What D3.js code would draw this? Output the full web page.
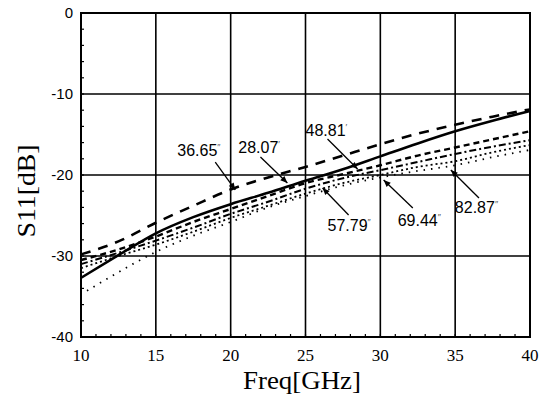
<!DOCTYPE html>
<html><head><meta charset="utf-8">
<script src="https://cdn.jsdelivr.net/npm/d3@7"></script>
<style>
html,body{margin:0;padding:0;background:#fff;}
svg{display:block;}
</style></head>
<body>
<svg id="chart" width="547" height="407"></svg>
<script>
// ---- data ----
const freqs = [10, 12.5, 15, 17.5, 20, 22.5, 25, 27.5, 30, 32.5, 35, 37.5, 40];
const s28_07 = [-32.7, -29.9, -27.2, -25.2, -23.6, -22.2, -20.7, -19.3, -17.7, -16.1, -14.6, -13.3, -12.1];
const s36_65 = [-29.8, -28.2, -25.9, -23.8, -21.8, -20.3, -19.0, -17.6, -16.2, -14.9, -13.8, -12.8, -11.9];
const s48_81 = [-30.5, -29.2, -27.6, -25.8, -24.2, -22.6, -21.0, -19.9, -18.8, -17.6, -16.6, -15.6, -14.6];
const s57_79 = [-31.0, -29.6, -28.1, -26.5, -24.8, -23.3, -21.7, -20.4, -19.4, -18.4, -17.4, -16.5, -15.7];
const s69_44 = [-31.5, -30.0, -28.6, -27.0, -25.3, -23.8, -22.3, -21.0, -20.0, -19.0, -18.3, -17.2, -16.3];
const freqsLow = [10.4, 12.5, 15, 17.5, 20, 22.5, 25, 27.5, 30, 32.5, 35, 37.5, 40];
const s82_87 = [-34.3, -32.0, -29.5, -27.5, -25.8, -24.0, -22.6, -21.3, -20.3, -19.5, -18.8, -17.8, -16.9];
const xTicks = [10, 15, 20, 25, 30, 35, 40];
const yTicks = [0, -10, -20, -30, -40];
const labelNames = ["36.65", "28.07", "48.81", "57.79", "69.44", "82.87"];
const labelMarks = ["″", "′", "′", "″", "″", "″"];
// annotation text anchor [freq, dB], arrow start and tip [freq, dB]
const labelText = [[16.43, -17.65], [20.51, -17.28], [25.0, -15.19], [26.47, -26.91], [31.16, -26.3], [34.98, -24.69]];
const arrowFrom = [[18.97, -18.4], [21.99, -17.78], [26.47, -15.56], [27.88, -24.94], [32.17, -24.07], [36.59, -22.84]];
const arrowTo = [[20.31, -21.85], [23.79, -20.99], [28.48, -19.26], [26.14, -21.6], [30.22, -20.62], [34.71, -19.38]];

// ---- layout ----
const svg = d3.select("#chart");
const L = 81, R = 530, T = 13, B = 337;
const x = d3.scaleLinear().domain([10, 40]).range([L, R]);
const y = d3.scaleLinear().domain([-40, 0]).range([B, T]);

// grid
const g = svg.append("g");
g.selectAll(".vg").data(xTicks.slice(1, -1)).enter().append("line")
  .attr("x1", d => x(d)).attr("x2", d => x(d)).attr("y1", T).attr("y2", B)
  .attr("stroke", "#000").attr("stroke-width", 1.6);
g.selectAll(".hg").data(yTicks.slice(1, -1)).enter().append("line")
  .attr("y1", d => y(d)).attr("y2", d => y(d)).attr("x1", L).attr("x2", R)
  .attr("stroke", "#000").attr("stroke-width", 1.4);

// minor ticks (left and bottom only)
const yMinor = d3.range(-40, 0.1, 2);
g.selectAll(".ym").data(yMinor).enter().append("line")
  .attr("x1", L).attr("x2", L + 3).attr("y1", d => y(d)).attr("y2", d => y(d))
  .attr("stroke", "#000").attr("stroke-width", 1.2);
const xMinor = d3.range(10, 40.1, 1);
g.selectAll(".xm").data(xMinor).enter().append("line")
  .attr("x1", d => x(d)).attr("x2", d => x(d)).attr("y1", B).attr("y2", B - 3)
  .attr("stroke", "#000").attr("stroke-width", 1.2);

// frame
g.append("rect").attr("x", L).attr("y", T).attr("width", R - L).attr("height", B - T)
  .attr("fill", "none").attr("stroke", "#000").attr("stroke-width", 2);

// tick labels
svg.selectAll(".yl").data(yTicks).enter().append("text")
  .attr("x", 73).attr("y", d => y(d)).attr("dy", "0.36em")
  .attr("text-anchor", "end").attr("font-family", "Liberation Sans, Arial, sans-serif")
  .attr("font-size", 15).text(d => d);
svg.selectAll(".xl").data(xTicks).enter().append("text")
  .attr("x", d => x(d)).attr("y", 361)
  .attr("text-anchor", "middle").attr("font-family", "Liberation Serif, Times New Roman, serif")
  .attr("font-size", 17).text(d => d);

// axis titles
svg.append("text").attr("x", 302).attr("y", 389).attr("text-anchor", "middle")
  .attr("font-family", "Liberation Serif, Times New Roman, serif").attr("font-size", 25)
  .attr("textLength", 118).attr("lengthAdjust", "spacingAndGlyphs").text("Freq[GHz]");
svg.append("text").attr("transform", "translate(35,191) rotate(-90)").attr("text-anchor", "middle")
  .attr("font-family", "Liberation Serif, Times New Roman, serif").attr("font-size", 25)
  .attr("textLength", 93).attr("lengthAdjust", "spacingAndGlyphs").text("S11[dB]");

// series
const series = [
  {f: freqs, v: s36_65, w: 2.6, dash: "10,8"},
  {f: freqs, v: s48_81, w: 2.4, dash: "6,4"},
  {f: freqs, v: s57_79, w: 2.0, dash: "7,3,2,3"},
  {f: freqs, v: s69_44, w: 1.8, dash: "2,3"},
  {f: freqsLow, v: s82_87, w: 1.8, dash: "1.5,6"},
  {f: freqs, v: s28_07, w: 2.6, dash: null}
];
const line = d3.line().x(d => x(d[0])).y(d => y(d[1])).curve(d3.curveMonotoneX);
series.forEach(s => {
  svg.append("path").datum(s.f.map((f, i) => [f, s.v[i]]))
    .attr("d", line).attr("fill", "none").attr("stroke", "#000")
    .attr("stroke-width", s.w).attr("stroke-dasharray", s.dash);
});

// annotations
labelNames.forEach((n, i) => {
  const a = arrowFrom[i], b = arrowTo[i];
  svg.append("line").attr("x1", x(a[0])).attr("y1", y(a[1])).attr("x2", x(b[0])).attr("y2", y(b[1]))
    .attr("stroke", "#000").attr("stroke-width", 1.3);
  const ang = Math.atan2(y(b[1]) - y(a[1]), x(b[0]) - x(a[0]));
  const tx = x(b[0]), ty = y(b[1]), len = 7, wd = 3;
  const p = [[tx, ty],
    [tx - len * Math.cos(ang) + wd * Math.sin(ang), ty - len * Math.sin(ang) - wd * Math.cos(ang)],
    [tx - len * Math.cos(ang) - wd * Math.sin(ang), ty - len * Math.sin(ang) + wd * Math.cos(ang)]];
  svg.append("path").attr("d", "M" + p.join("L") + "Z").attr("fill", "#000");
  const t = svg.append("text").attr("x", x(labelText[i][0])).attr("y", y(labelText[i][1]))
    .attr("font-family", "Liberation Sans, Arial, sans-serif").attr("font-size", 16);
  t.append("tspan").text(n);
  t.append("tspan").attr("font-size", 9).attr("dy", -6).attr("fill", "#555").text(labelMarks[i]);
});
</script>
</body></html>
